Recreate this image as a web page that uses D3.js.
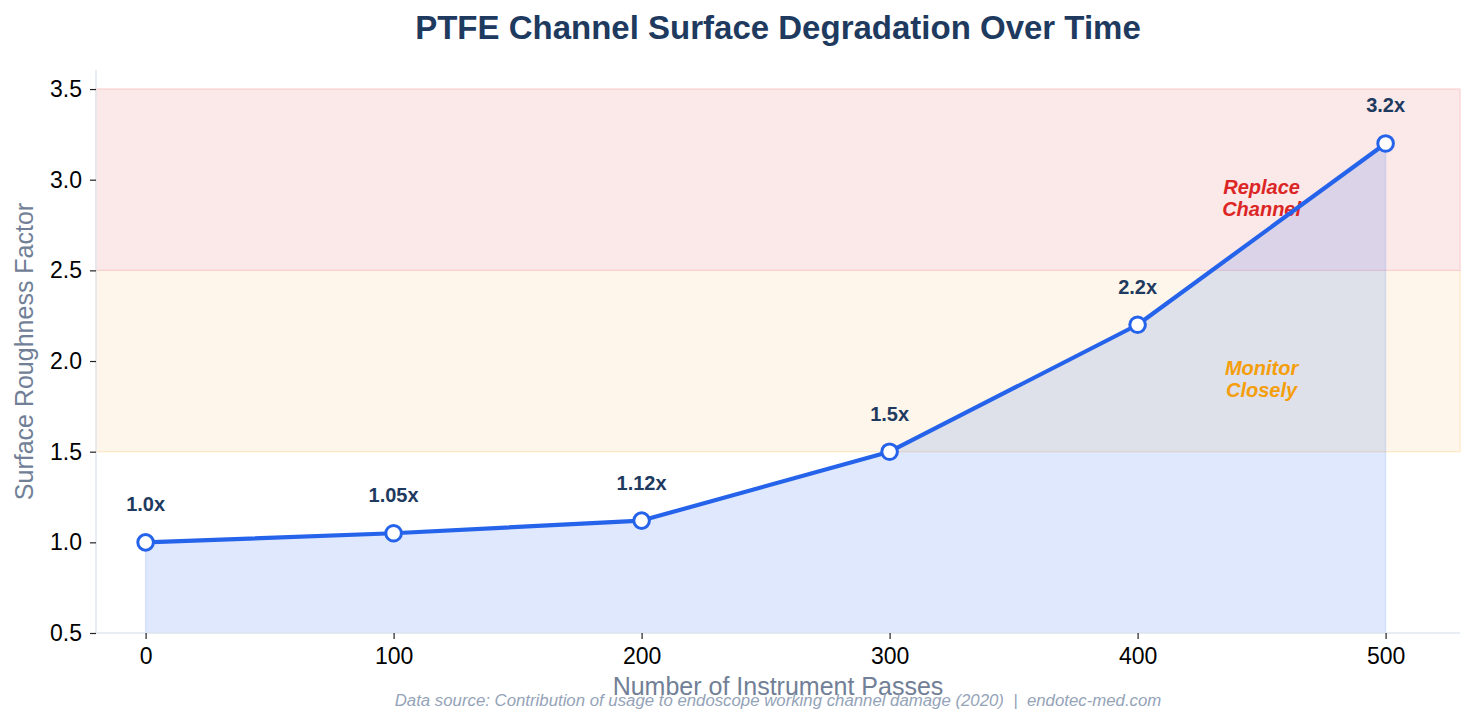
<!DOCTYPE html>
<html>
<head>
<meta charset="utf-8">
<script src="https://cdn.jsdelivr.net/npm/d3@7"></script>
<style>
  body { margin: 0; background: #fff; }
  svg { display: block; font-family: "Liberation Sans", Arial, sans-serif; }
</style>
</head>
<body>
<main></main>
<script>
// data
const passes = [0, 100, 200, 300, 400, 500];
const roughness = [1.0, 1.05, 1.12, 1.5, 2.2, 3.2];
const pointLabels = ["1.0x", "1.05x", "1.12x", "1.5x", "2.2x", "3.2x"];
const yTicks = [0.5, 1.0, 1.5, 2.0, 2.5, 3.0, 3.5];
const xTicks = [0, 100, 200, 300, 400, 500];
const zones = [
  { from: 1.5, to: 2.5, fill: "#fef6ea", edge: "#fde6c4", label: ["Monitor", "Closely"], color: "#f59e0b" },
  { from: 2.5, to: 3.5, fill: "#fbe8e8", edge: "#f8d0cf", label: ["Replace", "Channel"], color: "#dc2626" }
];
const zoneLabelX = 450;

const dataset = passes.map((p, i) => ({ x: p, y: roughness[i], label: pointLabels[i] }));

// dimensions
const width = 1476;
const height = 724;
const margin = { top: 70, right: 16, bottom: 91, left: 96 };
const boundedWidth = width - margin.left - margin.right;
const boundedHeight = height - margin.top - margin.bottom;

const svg = d3.select("main").append("svg")
  .attr("width", width)
  .attr("height", height);

const graph = svg.append("g")
  .attr("transform", `translate(${margin.left},${margin.top})`);

// scales
const xScale = d3.scaleLinear().domain([-20, 530]).range([0, boundedWidth]);
const yScale = d3.scaleLinear().domain([0.5, 3.605]).range([boundedHeight, 0]);

// zones
graph.selectAll(".zone")
  .data(zones)
  .enter().append("rect")
  .attr("x", 0)
  .attr("width", boundedWidth)
  .attr("y", d => yScale(d.to))
  .attr("height", d => yScale(d.from) - yScale(d.to))
  .attr("fill", d => d.fill)
  .attr("stroke", d => d.edge)
  .attr("stroke-width", 1.2);

// area
const area = d3.area()
  .x(d => xScale(d.x))
  .y0(yScale(0.5))
  .y1(d => yScale(d.y));

graph.append("path")
  .datum(dataset)
  .attr("d", area)
  .attr("fill", "#2563eb")
  .attr("fill-opacity", 0.15)
  .attr("stroke", "#2563eb")
  .attr("stroke-opacity", 0.12)
  .attr("stroke-width", 1.5);

// zone labels
zones.forEach(z => {
  const cy = yScale((z.from + z.to) / 2 - 0.1);
  const t = graph.append("text")
    .attr("text-anchor", "middle")
    .attr("fill", z.color)
    .attr("font-size", 20)
    .attr("font-weight", "bold")
    .attr("font-style", "italic");
  t.append("tspan").attr("x", xScale(zoneLabelX)).attr("y", cy - 4).text(z.label[0]);
  t.append("tspan").attr("x", xScale(zoneLabelX)).attr("y", cy + 18).text(z.label[1]);
});

// line
const line = d3.line()
  .x(d => xScale(d.x))
  .y(d => yScale(d.y));

graph.append("path")
  .datum(dataset)
  .attr("d", line)
  .attr("fill", "none")
  .attr("stroke", "#2563eb")
  .attr("stroke-width", 4.2)
  .attr("stroke-linejoin", "round");

graph.selectAll(".pt")
  .data(dataset)
  .enter().append("circle")
  .attr("cx", d => xScale(d.x))
  .attr("cy", d => yScale(d.y))
  .attr("r", 7.8)
  .attr("fill", "#fff")
  .attr("stroke", "#2563eb")
  .attr("stroke-width", 3);

graph.selectAll(".vlabel")
  .data(dataset)
  .enter().append("text")
  .attr("x", d => xScale(d.x))
  .attr("y", d => yScale(d.y) - 31)
  .attr("text-anchor", "middle")
  .attr("fill", "#1e3a5f")
  .attr("font-size", 20)
  .attr("font-weight", "bold")
  .text(d => d.label);

// axes
const xAxis = graph.append("g")
  .attr("transform", `translate(0,${boundedHeight})`)
  .call(d3.axisBottom(xScale).tickValues(xTicks).tickSize(6).tickPadding(9).tickFormat(d3.format("d")));

const yAxis = graph.append("g")
  .call(d3.axisLeft(yScale).tickValues(yTicks).tickSize(6).tickPadding(8).tickFormat(d3.format(".1f")));

[xAxis, yAxis].forEach(a => {
  a.select(".domain").attr("stroke", "#e2e8f0").attr("stroke-width", 1.5);
  a.selectAll(".tick line").attr("stroke", "#222").attr("stroke-width", 1.2);
  a.selectAll(".tick text").attr("fill", "#000").attr("font-size", 23);
});
// full-length spines
xAxis.select(".domain").attr("d", `M0,0H${boundedWidth}`);
yAxis.select(".domain").attr("d", `M0,0V${boundedHeight}`);

// titles
svg.append("text")
  .attr("x", 778)
  .attr("y", 39)
  .attr("text-anchor", "middle")
  .attr("fill", "#1e3a5f")
  .attr("font-size", 33)
  .attr("font-weight", "bold")
  .text("PTFE Channel Surface Degradation Over Time");

svg.append("text")
  .attr("transform", `translate(33,${margin.top + boundedHeight / 2}) rotate(-90)`)
  .attr("text-anchor", "middle")
  .attr("fill", "#718096")
  .attr("font-size", 25)
  .text("Surface Roughness Factor");

svg.append("text")
  .attr("x", 778)
  .attr("y", 695)
  .attr("text-anchor", "middle")
  .attr("fill", "#718096")
  .attr("font-size", 25)
  .text("Number of Instrument Passes");

svg.append("text")
  .attr("x", 778)
  .attr("y", 706)
  .attr("text-anchor", "middle")
  .attr("fill", "#94a3b8")
  .attr("font-size", 16.8)
  .attr("font-style", "italic")
  .style("white-space", "pre")
  .text("Data source: Contribution of usage to endoscope working channel damage (2020)  |  endotec-med.com");
</script>
</body>
</html>
